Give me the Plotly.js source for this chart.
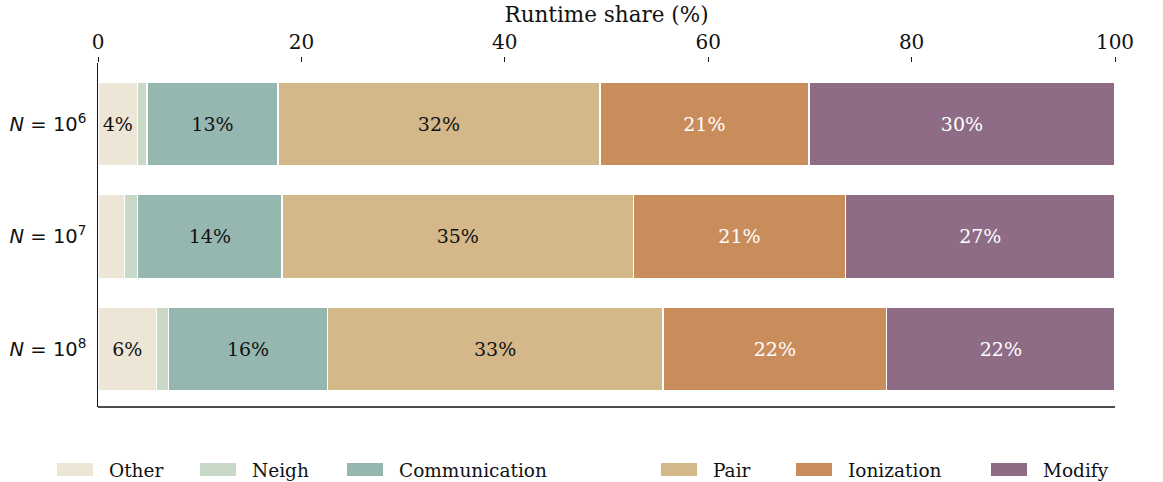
<!DOCTYPE html>
<html><head><meta charset="utf-8">
<script src="https://cdn.plot.ly/plotly-3.0.1.min.js"></script>
<style>html,body{margin:0;padding:0;background:#fff}#chart{width:1163px;height:482px}</style>
</head><body><div id="chart"></div>
<script>
const rows = ['<i>N</i> = 10<sup>6</sup>', '<i>N</i> = 10<sup>7</sup>', '<i>N</i> = 10<sup>8</sup>'];
const components = ['Other', 'Neigh', 'Communication', 'Pair', 'Ionization', 'Modify'];
const other = [3.9, 2.6, 5.75];
const neigh = [0.9, 1.3, 1.2];
const communication = [12.9, 14.2, 15.6];
const pair = [31.65, 34.55, 33.0];
const ionization = [20.55, 20.85, 22.0];
const modify = [30.1, 26.5, 22.45];
const seriesValues = [other, neigh, communication, pair, ionization, modify];
const colors = ['#ede5d6', '#c8d9c7', '#96b7af', '#d4b88a', '#c98c5b', '#8e6c86'];
const textColors = ['#111', '#111', '#111', '#111', '#fff', '#fff'];

const serif = 'DejaVu Serif, serif';
const traces = components.map((name, i) => ({
  type: 'bar', orientation: 'h', name: name,
  y: rows, x: seriesValues[i],
  marker: {color: colors[i], line: {color: '#fff', width: 1.5}},
  text: seriesValues[i].map(v => Math.round(v) + '%'),
  textposition: seriesValues[i].map(v => v >= 3 ? 'inside' : 'none'),
  insidetextanchor: 'middle',
  textfont: {family: serif, size: 19, color: textColors[i]},
  constraintext: 'none',
  width: 0.75, showlegend: false, hoverinfo: 'x+name'
}));

// custom legend (wide swatches like the reference)
const swLeft = [57, 200, 347, 661, 796, 991];
const plotL = 98, plotW = 1017, plotT = 63, plotH = 344;
const px = x => (x - plotL) / plotW;
const py = y => (plotT + plotH - y) / plotH;
const shapes = [];
const annotations = [];
components.forEach((name, i) => {
  shapes.push({type: 'rect', xref: 'paper', yref: 'paper',
    x0: px(swLeft[i]), x1: px(swLeft[i] + 36), y0: py(476), y1: py(463),
    fillcolor: colors[i], line: {width: 0}});
  annotations.push({xref: 'paper', yref: 'paper', x: px(swLeft[i] + 50), y: py(470),
    xanchor: 'left', yanchor: 'middle', showarrow: false, text: name,
    font: {family: serif, size: 18.5, color: '#111'}});
});
shapes.push({type: 'line', xref: 'paper', yref: 'paper', x0: 0, x1: 1, y0: 0, y1: 0,
  line: {color: '#111', width: 1.5}});

const layout = {
  width: 1163, height: 482,
  margin: {l: plotL, r: 1163 - plotL - plotW, t: plotT, b: 482 - plotT - plotH, pad: 0},
  barmode: 'stack', bargap: 0.25,
  paper_bgcolor: '#fff', plot_bgcolor: '#fff',
  xaxis: {side: 'top', range: [0, 100], tickvals: [0, 20, 40, 60, 80, 100],
    ticks: 'outside', ticklen: 5, tickwidth: 1, tickcolor: '#111',
    showgrid: false, zeroline: false, showline: false,
    tickfont: {family: serif, size: 20, color: '#111'},
    title: {text: 'Runtime share (%)', font: {family: serif, size: 21.5, color: '#111'}, standoff: 1}},
  yaxis: {range: [2.516, -0.542], showline: true, linecolor: '#111', linewidth: 1.5,
    ticks: '', showgrid: false, zeroline: false,
    tickfont: {family: 'DejaVu Sans, sans-serif', size: 19.5, color: '#111'}, ticksuffix: ' '},
  shapes: shapes, annotations: annotations,
  showlegend: false
};
Plotly.newPlot('chart', traces, layout, {displayModeBar: false, staticPlot: true});
</script></body></html>
